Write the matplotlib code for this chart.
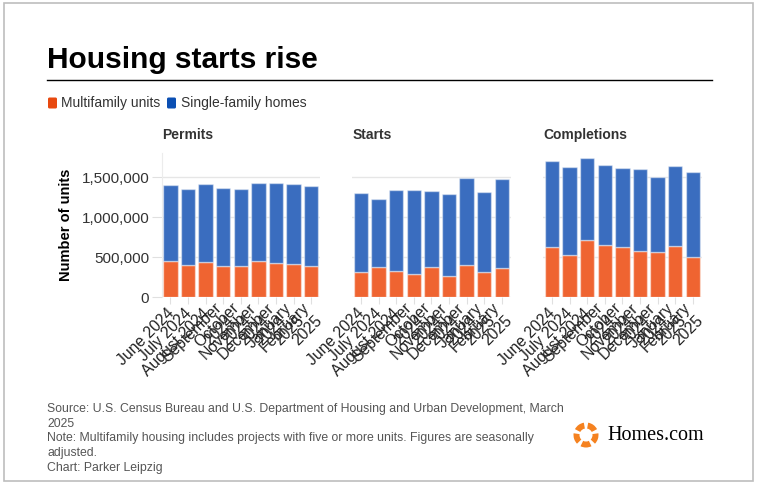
import matplotlib
matplotlib.use("Agg")
import matplotlib.pyplot as plt
from matplotlib.patches import Rectangle, FancyBboxPatch, Wedge
from matplotlib.ticker import FuncFormatter
from matplotlib.transforms import ScaledTranslation

plt.rcParams['font.family'] = ['Liberation Sans', 'DejaVu Sans']

months = ["June 2024", "July 2024", "August 2024", "September\n2024", "October\n2024",
          "November\n2024", "December\n2024", "January\n2025", "February\n2025"]
panels = ["Permits", "Starts", "Completions"]

# values in units
permits_multi = [458e3, 408e3, 442e3, 396e3, 388e3, 458e3, 425e3, 417e3, 396e3]
permits_single = [942e3, 942e3, 970e3, 966e3, 970e3, 975e3, 1000e3, 995e3, 996e3]
starts_multi = [321e3, 375e3, 333e3, 288e3, 383e3, 263e3, 400e3, 321e3, 367e3]
starts_single = [987e3, 858e3, 1009e3, 1050e3, 942e3, 1025e3, 1092e3, 1000e3, 1108e3]
comp_multi = [625e3, 529e3, 712e3, 650e3, 625e3, 583e3, 567e3, 642e3, 508e3]
comp_single = [1075e3, 1100e3, 1026e3, 1004e3, 992e3, 1017e3, 933e3, 996e3, 1063e3]

multi = [permits_multi, starts_multi, comp_multi]
single = [permits_single, starts_single, comp_single]

orange = '#ef6431'
blue = '#3a6dbf'

W, H = 759, 486
fig = plt.figure(figsize=(W / 100, H / 100), dpi=100)
fig.patch.set_facecolor('white')

# overlay in pixel units for title, legend, footer
ov = fig.add_axes([0, 0, 1, 1])
ov.set_xlim(0, W)
ov.set_ylim(H, 0)
ov.axis('off')
ov.add_patch(Rectangle((4, 3), 749, 478, fill=False, edgecolor='#bdbdbd', lw=1.2))
ov.text(47, 68, "Housing starts rise", fontsize=21.5, fontweight='bold', va='baseline', color='black')
ov.plot([47, 712], [80, 80], color='black', lw=1)
ov.add_patch(FancyBboxPatch((48, 97.5), 9, 11, boxstyle='round,pad=0,rounding_size=1.5',
                            facecolor='#e8490f', edgecolor='none'))
ov.text(61, 103, "Multifamily units", fontsize=10, va='center', color='#333333')
ov.add_patch(FancyBboxPatch((167, 97.5), 9, 11, boxstyle='round,pad=0,rounding_size=1.5',
                            facecolor='#0b4fb3', edgecolor='none'))
ov.text(181, 103, "Single-family homes", fontsize=10, va='center', color='#333333')

footer = ("Source: U.S. Census Bureau and U.S. Department of Housing and Urban Development, March\n"
          "2025\n"
          "Note: Multifamily housing includes projects with five or more units. Figures are seasonally\n"
          "adjusted.\n"
          "Chart: Parker Leipzig")
ov.text(47, 403, footer, fontsize=8.8, color='#555555', va='top', linespacing=1.3)

# Homes.com logo
for k in range(5):
    a = 90 + 72 * k
    ov.add_patch(Wedge((586, 435), 12.5, a - 26, a + 26, width=6, facecolor='#f58220',
                       edgecolor='none'))
ov.text(607, 435, "Homes.com", fontsize=14.5, family='Liberation Serif', va='center', color='black')

# panels
lefts = [161.7, 352.3, 543.3]
x = list(range(len(months)))
shift = ScaledTranslation(0.03, -0.04, fig.dpi_scale_trans)
for i, name in enumerate(panels):
    ax = fig.add_axes([lefts[i] / W, (H - 297.3) / H, 158.3 / W, 144 / H])
    ax.bar(x, multi[i], width=0.82, color=orange, edgecolor=(1, 1, 1, 0.45), lw=1, zorder=3)
    ax.bar(x, single[i], width=0.82, bottom=multi[i], color=blue, edgecolor=(1, 1, 1, 0.45),
           lw=1, zorder=3)
    ax.set_xlim(-0.5, 8.5)
    ax.set_ylim(0, 1.8e6)
    ax.set_yticks([0, 500000, 1000000, 1500000])
    ax.grid(axis='y', color='#e6e6e6', lw=1, zorder=0)
    for s in ['top', 'right', 'bottom']:
        ax.spines[s].set_visible(False)
    if i == 0:
        ax.spines['left'].set_color('#ececec')
        ax.yaxis.set_major_formatter(FuncFormatter(lambda v, p: f"{int(v):,}"))
        ax.tick_params(axis='y', length=7, color='#e0e0e0', labelsize=11, labelcolor='#333333', pad=2)
        ax.set_ylabel("Number of units", fontsize=10.5, fontweight='bold', labelpad=6)
    else:
        ax.spines['left'].set_visible(False)
        ax.tick_params(axis='y', length=0, labelleft=False)
    ax.set_xticks(x)
    ax.set_xticklabels(months, rotation=45, ha='right', va='center_baseline',
                       rotation_mode='anchor', fontsize=11.3, color='#222222')
    for lab in ax.get_xticklabels():
        lab.set_transform(lab.get_transform() + shift)
    ax.tick_params(axis='x', length=5, color='#e0e0e0', pad=4)
    ax.text(0, 1.13, name, transform=ax.transAxes, fontsize=10, fontweight='bold',
            color='#333333', va='center')

fig.savefig("out.png", dpi=100, facecolor='white')
